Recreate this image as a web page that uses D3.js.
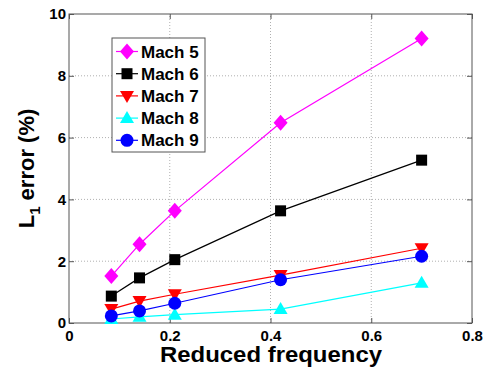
<!DOCTYPE html>
<html>
<head>
<meta charset="utf-8">
<script src="https://cdn.jsdelivr.net/npm/d3@7"></script>
<style>
  body { margin: 0; background: #fff; }
  svg { font-family: Arial, "Liberation Sans", sans-serif; }
</style>
</head>
<body>
<svg id="chart" width="486" height="375"></svg>
<script>
const freqs = [0.084, 0.14, 0.21, 0.42, 0.70];
const mach5 = [1.52, 2.55, 3.63, 6.48, 9.21];
const mach6 = [0.87, 1.46, 2.05, 3.63, 5.27];
const mach7 = [0.45, 0.71, 0.93, 1.55, 2.42];
const mach8 = [0.13, 0.20, 0.27, 0.45, 1.30];
const mach9 = [0.23, 0.39, 0.64, 1.40, 2.16];
const seriesNames = ["Mach 5", "Mach 6", "Mach 7", "Mach 8", "Mach 9"];
const xTicks = [0, 0.2, 0.4, 0.6, 0.8];
const yTicks = [0, 2, 4, 6, 8, 10];

const series = [
  { name: seriesNames[0], values: mach5, color: "#ff00ff", shape: "diamond" },
  { name: seriesNames[1], values: mach6, color: "#000000", shape: "square" },
  { name: seriesNames[2], values: mach7, color: "#ff0000", shape: "down" },
  { name: seriesNames[3], values: mach8, color: "#00ffff", shape: "up" },
  { name: seriesNames[4], values: mach9, color: "#0000ff", shape: "circle" }
];

const margin = { top: 14, right: 14, bottom: 52, left: 69 };
const width = 486, height = 375;
const svg = d3.select("#chart");

const x = d3.scaleLinear().domain([0, 0.8]).range([margin.left, width - margin.right]);
const y = d3.scaleLinear().domain([0, 10]).range([height - margin.bottom, margin.top]);

// grid
const grid = svg.append("g");
grid.selectAll("line.gx")
  .data(xTicks.slice(1, -1))
  .join("line")
  .attr("x1", d => x(d)).attr("x2", d => x(d))
  .attr("y1", y(0)).attr("y2", y(10))
  .attr("stroke", "#b0b0b0").attr("stroke-width", 1).attr("stroke-dasharray", "1,2");
grid.selectAll("line.gy")
  .data(yTicks.slice(1, -1))
  .join("line")
  .attr("x1", x(0)).attr("x2", x(0.8))
  .attr("y1", d => y(d)).attr("y2", d => y(d))
  .attr("stroke", "#b0b0b0").attr("stroke-width", 1).attr("stroke-dasharray", "1,2");

// axes box
const axisColor = "#555";
svg.append("rect")
  .attr("x", x(0)).attr("y", y(10))
  .attr("width", x(0.8) - x(0)).attr("height", y(0) - y(10))
  .attr("fill", "none").attr("stroke", axisColor).attr("stroke-width", 1);

const fmt = d => d === 0 ? "0" : String(d);
svg.append("g").attr("transform", `translate(0,${y(0)})`)
  .call(d3.axisBottom(x).tickValues(xTicks).tickFormat(fmt).tickSizeInner(-5).tickSizeOuter(0).tickPadding(7));
svg.append("g").attr("transform", `translate(${x(0)},0)`)
  .call(d3.axisLeft(y).tickValues(yTicks).tickFormat(fmt).tickSizeInner(-5).tickSizeOuter(0).tickPadding(3));
svg.append("g").attr("transform", `translate(${x(0.8)},0)`)
  .call(d3.axisRight(y).tickValues(yTicks).tickFormat("").tickSizeInner(-5).tickSizeOuter(0));
svg.append("g").attr("transform", `translate(0,${y(10)})`)
  .call(d3.axisTop(x).tickValues(xTicks).tickFormat("").tickSizeInner(-5).tickSizeOuter(0));
svg.selectAll(".domain").remove();
svg.selectAll(".tick line").attr("stroke", axisColor);
svg.selectAll(".tick text")
  .attr("fill", "#000").style("font-size", "15px").style("font-weight", "bold")
  .style("font-family", "Arial, 'Liberation Sans', sans-serif");

// titles
svg.append("text")
  .attr("x", 271).attr("y", 362)
  .attr("text-anchor", "middle")
  .attr("textLength", 222).attr("lengthAdjust", "spacingAndGlyphs")
  .style("font-size", "22px").style("font-weight", "bold")
  .text("Reduced frequency");

const yt = svg.append("text")
  .attr("transform", `translate(34,${(y(0) + y(10)) / 2}) rotate(-90)`)
  .attr("text-anchor", "middle")
  .style("font-size", "22px").style("font-weight", "bold");
yt.append("tspan").text("L");
yt.append("tspan").attr("dy", 6).style("font-size", "15px").text("1");
yt.append("tspan").attr("dy", -6).text(" error (%)");

function drawMarker(g, shape, color) {
  if (shape === "diamond") {
    g.append("path").attr("d", "M0,-8L7,0L0,8L-7,0Z").attr("fill", color);
  } else if (shape === "square") {
    g.append("rect").attr("x", -5.5).attr("y", -5.5).attr("width", 11).attr("height", 11).attr("fill", color);
  } else if (shape === "down") {
    g.append("path").attr("d", "M-7,-5L7,-5L0,7Z").attr("fill", color);
  } else if (shape === "up") {
    g.append("path").attr("d", "M-7,5L7,5L0,-7Z").attr("fill", color);
  } else {
    g.append("circle").attr("r", 6.5).attr("fill", color);
  }
}

const line = d3.line().x(d => x(d[0])).y(d => y(d[1]));
const plot = svg.append("g");
series.forEach(s => {
  const pts = freqs.map((f, i) => [f, s.values[i]]);
  plot.append("path").datum(pts)
    .attr("d", line).attr("fill", "none")
    .attr("stroke", s.color).attr("stroke-width", 1.2);
});
series.forEach(s => {
  freqs.forEach((f, i) => {
    const g = plot.append("g").attr("transform", `translate(${x(f)},${y(s.values[i])})`);
    drawMarker(g, s.shape, s.color);
  });
});

// legend
const lg = svg.append("g").attr("transform", "translate(112,38)");
lg.append("rect").attr("width", 93).attr("height", 114)
  .attr("fill", "#fff").attr("stroke", "#555").attr("stroke-width", 1);
series.forEach((s, i) => {
  const row = lg.append("g").attr("transform", `translate(0,${13.5 + i * 22.2})`);
  row.append("line").attr("x1", 4).attr("x2", 26).attr("stroke", s.color).attr("stroke-width", 1.2);
  const m = row.append("g").attr("transform", "translate(15,0)");
  drawMarker(m, s.shape, s.color);
  row.append("text").attr("x", 29).attr("y", 6)
    .style("font-size", "17px").style("font-weight", "bold").text(s.name);
});
</script>
</body>
</html>
